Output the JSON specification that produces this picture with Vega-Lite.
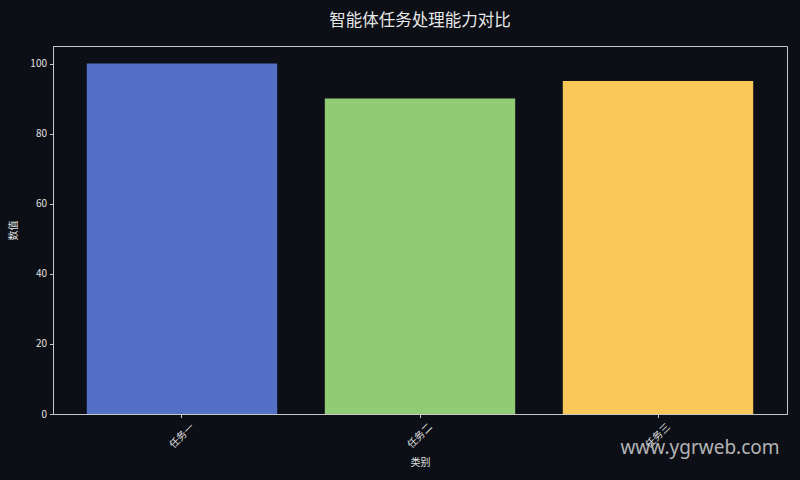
{
  "$schema": "https://vega.github.io/schema/vega-lite/v6.json",
  "width": 734,
  "height": 368,
  "autosize": {"type": "none"},
  "padding": {"left": 53, "top": 46, "right": 13, "bottom": 66},
  "background": "#0c0f16",
  "title": {
    "text": "智能体任务处理能力对比",
    "font": "Noto Sans CJK SC",
    "fontSize": 16.5,
    "fontWeight": "normal",
    "color": "#e8e8e8",
    "anchor": "middle",
    "offset": 17
  },
  "data": {
    "values": [
      {"类别": "任务一", "数值": 100, "note": ""},
      {"类别": "任务二", "数值": 90, "note": ""},
      {"类别": "任务三", "数值": 95, "note": "www.ygrweb.com"}
    ]
  },
  "encoding": {
    "x": {
      "field": "类别",
      "type": "nominal",
      "sort": null,
      "scale": {"paddingInner": 0.2, "paddingOuter": 0.142},
      "axis": {
        "title": "类别",
        "labelAngle": -45,
        "labelAlign": "center",
        "labelBaseline": "middle",
        "labelPadding": 18,
        "titlePadding": 8
      }
    }
  },
  "layer": [
    {
      "mark": {"type": "bar"},
      "encoding": {
        "y": {
          "field": "数值",
          "type": "quantitative",
          "scale": {"domain": [0, 105], "nice": false},
          "axis": {"title": "数值", "values": [0, 20, 40, 60, 80, 100], "titlePadding": 11}
        },
        "color": {
          "field": "类别",
          "type": "nominal",
          "sort": null,
          "scale": {"domain": ["任务一", "任务二", "任务三"], "range": ["#5470c6", "#91cc75", "#fac858"]},
          "legend": null
        }
      }
    },
    {
      "mark": {
        "type": "text",
        "font": "Noto Sans",
        "fontSize": 19,
        "color": "#d0d0d0",
        "opacity": 0.85,
        "align": "center",
        "baseline": "middle",
        "dx": 42,
        "dy": 34,
        "clip": false
      },
      "encoding": {
        "y": {"datum": 0, "type": "quantitative"},
        "text": {"field": "note"}
      }
    }
  ],
  "config": {
    "view": {"stroke": "#c8c8c8", "strokeWidth": 1},
    "axis": {
      "domainColor": "#c8c8c8",
      "tickColor": "#c8c8c8",
      "tickSize": 3.5,
      "grid": false,
      "labelColor": "#e0e0e0",
      "labelFont": "Noto Sans CJK SC",
      "labelFontSize": 10,
      "labelPadding": 3,
      "titleColor": "#e0e0e0",
      "titleFont": "Noto Sans CJK SC",
      "titleFontSize": 10,
      "titleFontWeight": "normal"
    }
  }
}
